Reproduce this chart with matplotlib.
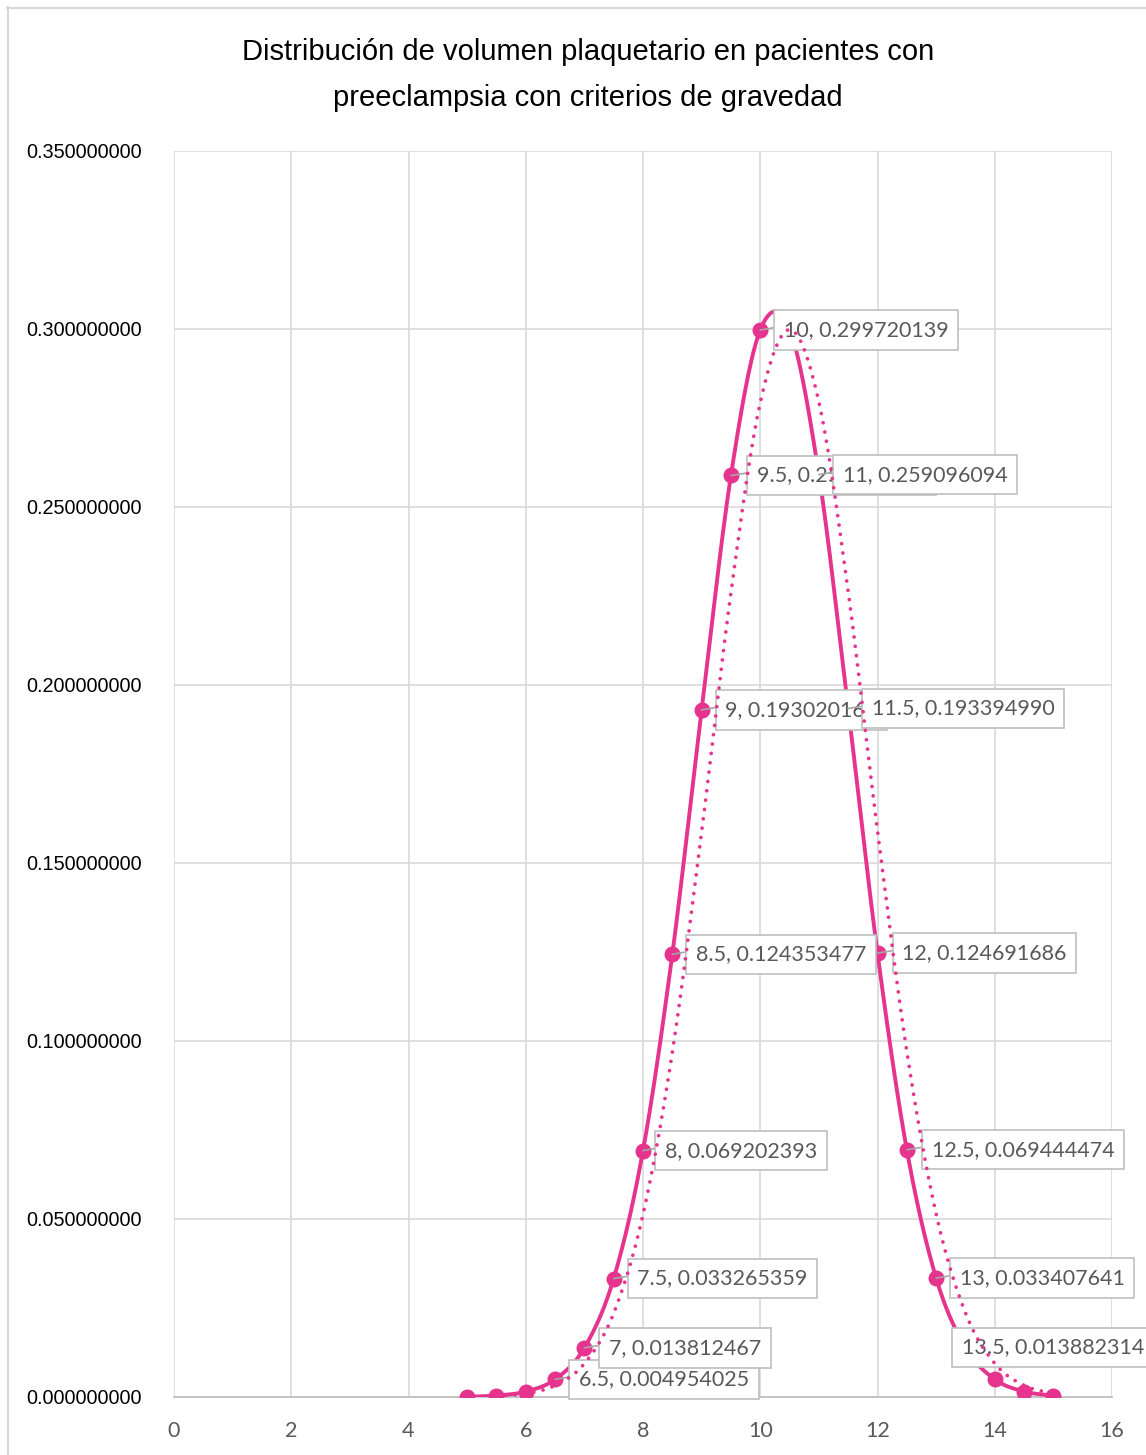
import numpy as np
import matplotlib
matplotlib.use("Agg")
import matplotlib.pyplot as plt
from matplotlib.lines import Line2D

# Platelet volume values (fL) and their normal-density values
volumen = [5, 5.5, 6, 6.5, 7, 7.5, 8, 8.5, 9, 9.5, 10,
           10.5, 11, 11.5, 12, 12.5, 13, 13.5, 14, 14.5, 15]
densidad = [0.000095, 0.00041, 0.00153, 0.004954025, 0.013812467,
            0.033265359, 0.069202393, 0.124353477, 0.193020160,
            0.258858462, 0.299720139, 0.299900000, 0.259096094,
            0.193394990, 0.124691686, 0.069444474, 0.033407641,
            0.013882314, 0.00498, 0.00154, 0.00041]

# Points that carry a data label
etiquetados = [6.5, 7, 7.5, 8, 8.5, 9, 9.5, 10, 11, 11.5, 12, 12.5, 13, 13.5]

x_ticks = [0, 2, 4, 6, 8, 10, 12, 14, 16]
y_ticks = [0.00, 0.05, 0.10, 0.15, 0.20, 0.25, 0.30, 0.35]

titulo = ("Distribución de volumen plaquetario en pacientes con\n"
          "preeclampsia con criterios de gravedad")

ROSA = "#E6338D"
GRIS_TEXTO = "#595959"
GRIS_REJILLA = "#D9D9D9"

# Horizontal offset (pixels) from each point to the left edge of its label box
label_dx = {6.5: 14, 7: 15, 7.5: 14, 8: 12, 8.5: 14, 9: 14, 9.5: 16, 10: 14,
            11: 14, 11.5: 14, 12: 15, 12.5: 15, 13: 14, 13.5: -13}


def suavizar(xs, ys, n=30):
    """Smooth curve through the points (cubic Bezier, Catmull-Rom tangents)."""
    p = np.column_stack([xs, ys]).astype(float)
    pts = np.vstack([p[0], p, p[-1]])
    out = []
    t = np.linspace(0, 1, n)[:, None]
    for i in range(1, len(pts) - 2):
        p0, p1, p2, p3 = pts[i - 1], pts[i], pts[i + 1], pts[i + 2]
        c1 = p1 + (p2 - p0) / 6.0
        c2 = p2 - (p3 - p1) / 6.0
        seg = ((1 - t) ** 3) * p1 + 3 * ((1 - t) ** 2) * t * c1 \
            + 3 * (1 - t) * t ** 2 * c2 + t ** 3 * p2
        out.append(seg if i == 1 else seg[1:])
    s = np.vstack(out)
    return s[:, 0], s[:, 1]


W, H, DPI = 1146, 1455, 100
fig = plt.figure(figsize=(W / DPI, H / DPI), dpi=DPI)
fig.patch.set_facecolor("white")

# Chart-area frame
fig.add_artist(Line2D([7.5 / W, 7.5 / W], [0, 1 - 7 / H], transform=fig.transFigure,
                      color=GRIS_REJILLA, lw=1.5))
fig.add_artist(Line2D([7 / W, 1], [1 - 7.5 / H, 1 - 7.5 / H], transform=fig.transFigure,
                      color=GRIS_REJILLA, lw=1.5))

left, right, top, bottom = 174, 1112, 151, 1397
ax = fig.add_axes([left / W, 1 - bottom / H, (right - left) / W, (bottom - top) / H])
ax.set_xlim(0, 16)
ax.set_ylim(0, 0.35)
ax.set_xticks(x_ticks)
ax.set_yticks(y_ticks)
ax.set_xticklabels([str(v) for v in x_ticks], family="Lato", fontsize=15.5,
                   color=GRIS_TEXTO)
ax.set_yticklabels([f"{v:.9f}" for v in y_ticks], family="Liberation Sans",
                   fontsize=14.3, color="black")
ax.tick_params(axis="both", length=0)
ax.tick_params(axis="x", pad=17)
ax.tick_params(axis="y", pad=23)
ax.grid(True, color=GRIS_REJILLA, lw=1.2)
ax.set_axisbelow(True)
for s in ["top", "right", "left"]:
    ax.spines[s].set_visible(False)
ax.spines["bottom"].set_color("#BFBFBF")
ax.spines["bottom"].set_linewidth(1.3)

# Series: smoothed line with markers
sx, sy = suavizar(volumen, densidad)
ax.plot(sx, sy, color=ROSA, lw=2.8, zorder=3, solid_capstyle="round")
ax.plot(volumen, densidad, "o", color=ROSA, ms=10.5, zorder=3.1)

# Two-period moving-average trendline
ma_x = volumen[1:]
ma_y = [(densidad[i - 1] + densidad[i]) / 2 for i in range(1, len(densidad))]
tx, ty = suavizar(ma_x, ma_y)
ax.plot(tx, ty, color=ROSA, lw=2.7, linestyle=(0, (0.01, 2.5)),
        dash_capstyle="round", zorder=6)

# Data labels
fs_lab = 15.5
pad_frac = 0.45
pad_px = pad_frac * fs_lab * DPI / 72
for k, (xv, yv) in enumerate(zip(volumen, densidad)):
    if xv not in etiquetados:
        continue
    dx = label_dx[xv] + pad_px
    ax.annotate(f"{xv:g}, {yv:.9f}", xy=(xv, yv), xytext=(dx, 0),
                textcoords="offset pixels", ha="left", va="center",
                family="Lato", fontsize=fs_lab, color=GRIS_TEXTO,
                bbox=dict(boxstyle=f"square,pad={pad_frac}", fc="white",
                          ec="#BFBFBF", lw=1.2),
                arrowprops=dict(arrowstyle="-", color="#A6A6A6", lw=1.2,
                                shrinkA=0, shrinkB=0, relpos=(0, 0.7)),
                zorder=4 + k * 0.01, annotation_clip=False)

fig.text(588 / W, 1 - 75 / H, titulo, ha="center", va="center",
         family="Liberation Sans", fontsize=21, color="black", linespacing=1.82)

fig.savefig("out.png", dpi=DPI)
